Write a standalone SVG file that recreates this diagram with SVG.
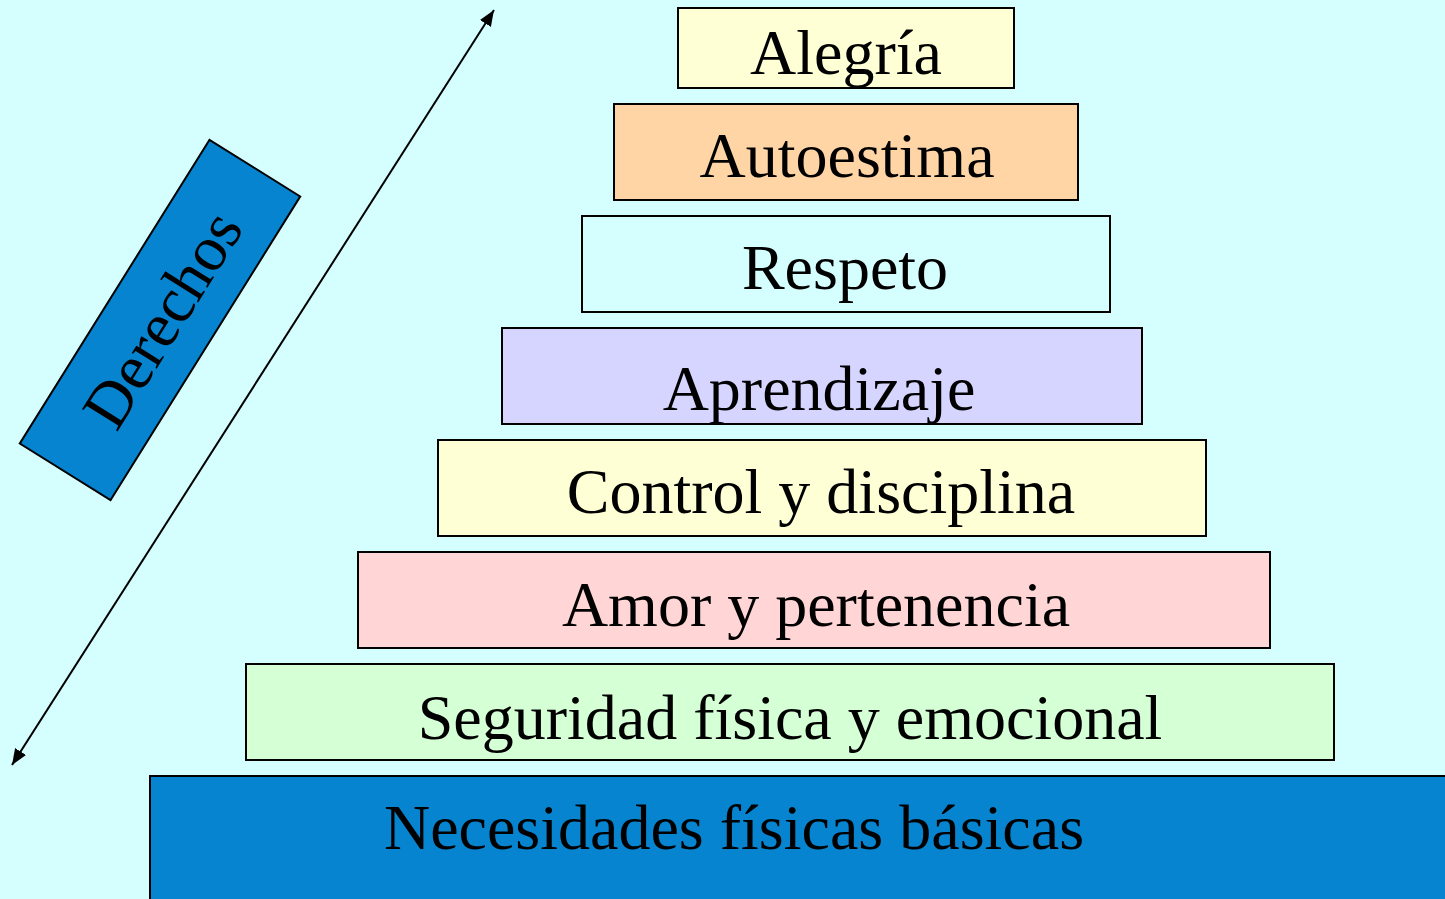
<svg xmlns="http://www.w3.org/2000/svg" width="1445" height="899" viewBox="0 0 1445 899">
<style>
.box{stroke:#000;stroke-width:2}
.lbl{font-family:"Liberation Serif","Times New Roman",serif;font-size:64px;fill:#000;text-anchor:middle}
</style>
<defs>
<marker id="ah" markerUnits="userSpaceOnUse" markerWidth="18" markerHeight="14" refX="16" refY="6.5" orient="auto-start-reverse">
<path d="M0,0 L16,6.5 L0,13 z" fill="#000"/>
</marker>
</defs>
<rect x="0" y="0" width="1445" height="899" fill="#D5FFFF"/>
<g id="connectors">
<line x1="12" y1="765" x2="494" y2="10" stroke="#000" stroke-width="2" marker-start="url(#ah)" marker-end="url(#ah)"/>
</g>
<g id="derechos" transform="translate(160,320) rotate(-58)">
<rect class="box" x="-179" y="-53.5" width="358" height="107" fill="#0684D0"/>
<text class="lbl" x="2" y="23">Derechos</text>
</g>
<g id="alegria">
<rect class="box" x="678" y="8" width="336" height="80" fill="#FFFFD5"/>
<text class="lbl" x="846" y="74">Alegría</text>
</g>
<g id="autoestima">
<rect class="box" x="614" y="104" width="464" height="96" fill="#FFD5A6"/>
<text class="lbl" x="847" y="177">Autoestima</text>
</g>
<g id="respeto">
<rect class="box" x="582" y="216" width="528" height="96" fill="#D5FFFF"/>
<text class="lbl" x="845" y="289">Respeto</text>
</g>
<g id="aprendizaje">
<rect class="box" x="502" y="328" width="640" height="96" fill="#D5D5FF"/>
<text class="lbl" x="819" y="410">Aprendizaje</text>
</g>
<g id="control">
<rect class="box" x="438" y="440" width="768" height="96" fill="#FFFFD5"/>
<text class="lbl" x="821" y="513">Control y disciplina</text>
</g>
<g id="amor">
<rect class="box" x="358" y="552" width="912" height="96" fill="#FFD5D5"/>
<text class="lbl" x="816" y="626">Amor y pertenencia</text>
</g>
<g id="seguridad">
<rect class="box" x="246" y="664" width="1088" height="96" fill="#D5FFD5"/>
<text class="lbl" x="790" y="739">Seguridad física y emocional</text>
</g>
<g id="necesidades">
<rect class="box" x="150" y="776" width="1310" height="140" fill="#0684D0"/>
<text class="lbl" x="734" y="849">Necesidades físicas básicas</text>
</g>
</svg>
